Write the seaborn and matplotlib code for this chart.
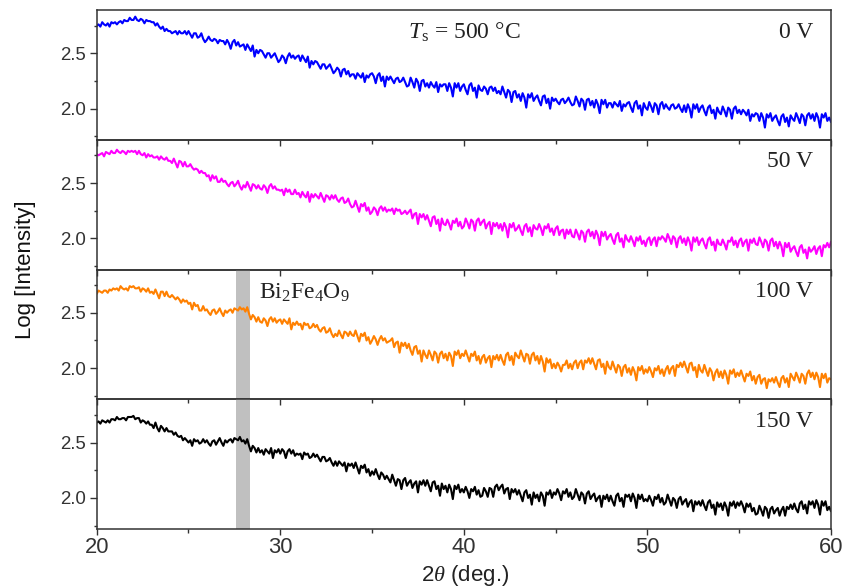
import numpy as np
import pandas as pd
import matplotlib
matplotlib.use("Agg")
import matplotlib.pyplot as plt
from matplotlib.ticker import FormatStrFormatter
import seaborn as sns

# ---- data (2theta from 20 to 60 deg, step 0.1 deg; one row = one degree) ----
bias_labels = ["0 V", "50 V", "100 V", "150 V"]
line_colors = ["#0000ff", "#ff00ff", "#ff8000", "#000000"]
x_ticks = [20, 30, 40, 50, 60]
y_ticks = [2.0, 2.5]
phase_label = r"$\mathrm{Bi_2Fe_4O_9}$"
phase_range = [27.6, 28.35]

log_i_0v = [
    2.75, 2.76, 2.74, 2.78, 2.76, 2.75, 2.77, 2.74, 2.78, 2.77,
    2.78, 2.76, 2.78, 2.79, 2.77, 2.80, 2.79, 2.79, 2.82, 2.80,
    2.80, 2.83, 2.80, 2.79, 2.81, 2.80, 2.77, 2.80, 2.79, 2.79,
    2.78, 2.78, 2.75, 2.77, 2.74, 2.72, 2.74, 2.70, 2.72, 2.70,
    2.70, 2.68, 2.69, 2.70, 2.67, 2.70, 2.68, 2.68, 2.70, 2.67,
    2.70, 2.67, 2.64, 2.68, 2.68, 2.64, 2.65, 2.68, 2.63, 2.60,
    2.62, 2.65, 2.62, 2.61, 2.63, 2.62, 2.59, 2.62, 2.61, 2.61,
    2.58, 2.62, 2.59, 2.54, 2.60, 2.62, 2.57, 2.60, 2.56, 2.57,
    2.58, 2.53, 2.58, 2.55, 2.52, 2.57, 2.47, 2.53, 2.50, 2.53,
    2.52, 2.49, 2.46, 2.50, 2.50, 2.46, 2.48, 2.50, 2.46, 2.42,
    2.44, 2.48, 2.46, 2.41, 2.47, 2.50, 2.46, 2.48, 2.45, 2.47,
    2.48, 2.43, 2.48, 2.45, 2.42, 2.47, 2.37, 2.43, 2.40, 2.43,
    2.42, 2.39, 2.36, 2.40, 2.40, 2.36, 2.38, 2.40, 2.36, 2.32,
    2.34, 2.37, 2.35, 2.29, 2.35, 2.36, 2.31, 2.34, 2.29, 2.31,
    2.31, 2.27, 2.32, 2.30, 2.28, 2.32, 2.24, 2.30, 2.28, 2.31,
    2.32, 2.29, 2.23, 2.30, 2.32, 2.25, 2.29, 2.20, 2.29, 2.26,
    2.29, 2.26, 2.23, 2.27, 2.28, 2.24, 2.25, 2.28, 2.24, 2.20,
    2.21, 2.28, 2.24, 2.19, 2.27, 2.24, 2.16, 2.25, 2.26, 2.20,
    2.23, 2.19, 2.24, 2.21, 2.19, 2.24, 2.15, 2.22, 2.20, 2.22,
    2.22, 2.16, 2.23, 2.19, 2.11, 2.23, 2.19, 2.23, 2.16, 2.20,
    2.22, 2.17, 2.13, 2.21, 2.23, 2.16, 2.19, 2.10, 2.21, 2.17,
    2.16, 2.20, 2.18, 2.13, 2.19, 2.20, 2.16, 2.19, 2.14, 2.16,
    2.13, 2.20, 2.15, 2.10, 2.17, 2.15, 2.06, 2.15, 2.16, 2.10,
    2.13, 2.07, 2.14, 2.10, 2.01, 2.13, 2.10, 2.14, 2.07, 2.10,
    2.12, 2.07, 2.03, 2.11, 2.12, 2.05, 2.09, 2.00, 2.10, 2.07,
    2.09, 2.06, 2.04, 2.08, 2.09, 2.05, 2.07, 2.10, 2.06, 2.03,
    2.04, 2.11, 2.07, 2.02, 2.09, 2.07, 1.99, 2.08, 2.09, 2.03,
    2.07, 2.01, 2.08, 2.04, 1.96, 2.08, 2.04, 2.08, 2.01, 2.05,
    2.05, 2.01, 2.06, 2.04, 2.02, 2.07, 1.98, 2.04, 2.02, 2.05,
    2.06, 2.01, 1.97, 2.05, 2.07, 2.00, 2.03, 1.94, 2.05, 2.01,
    1.99, 2.06, 2.02, 1.97, 2.05, 2.03, 1.95, 2.04, 2.06, 2.00,
    2.04, 2.01, 1.99, 2.03, 2.04, 2.00, 2.01, 2.04, 2.00, 1.97,
    2.03, 1.97, 2.04, 2.00, 1.92, 2.04, 2.00, 2.04, 1.97, 2.01,
    2.03, 1.98, 1.94, 2.01, 2.03, 1.96, 1.99, 1.91, 2.01, 1.97,
    1.95, 2.02, 1.98, 1.93, 2.01, 1.99, 1.91, 2.00, 2.02, 1.96,
    1.99, 1.95, 1.99, 1.97, 1.94, 1.99, 1.89, 1.95, 1.93, 1.96,
    1.95, 1.89, 1.96, 1.92, 1.83, 1.95, 1.92, 1.96, 1.89, 1.92,
    1.94, 1.89, 1.85, 1.93, 1.95, 1.88, 1.92, 1.84, 1.94, 1.91,
    1.89, 1.96, 1.92, 1.87, 1.95, 1.93, 1.85, 1.94, 1.96, 1.91,
    1.95, 1.89, 1.96, 1.92, 1.83, 1.95, 1.92, 1.96, 1.89, 1.92,
    1.88,
]

log_i_50v = [
    2.76, 2.75, 2.76, 2.77, 2.74, 2.78, 2.77, 2.76, 2.79, 2.77,
    2.77, 2.80, 2.78, 2.77, 2.79, 2.78, 2.76, 2.79, 2.78, 2.79,
    2.78, 2.79, 2.76, 2.79, 2.76, 2.75, 2.77, 2.73, 2.76, 2.74,
    2.75, 2.73, 2.73, 2.74, 2.71, 2.74, 2.72, 2.71, 2.73, 2.70,
    2.70, 2.68, 2.72, 2.68, 2.64, 2.70, 2.69, 2.65, 2.69, 2.65,
    2.65, 2.67, 2.64, 2.62, 2.63, 2.62, 2.59, 2.61, 2.59, 2.59,
    2.56, 2.57, 2.52, 2.57, 2.54, 2.56, 2.51, 2.51, 2.54, 2.51,
    2.52, 2.49, 2.47, 2.50, 2.51, 2.47, 2.49, 2.52, 2.47, 2.44,
    2.48, 2.46, 2.51, 2.47, 2.43, 2.49, 2.48, 2.45, 2.48, 2.45,
    2.44, 2.48, 2.46, 2.41, 2.47, 2.49, 2.45, 2.47, 2.44, 2.44,
    2.43, 2.44, 2.39, 2.45, 2.42, 2.44, 2.40, 2.40, 2.44, 2.40,
    2.41, 2.37, 2.42, 2.39, 2.37, 2.42, 2.33, 2.40, 2.37, 2.40,
    2.38, 2.36, 2.41, 2.37, 2.33, 2.39, 2.38, 2.35, 2.39, 2.36,
    2.39, 2.35, 2.33, 2.36, 2.37, 2.32, 2.33, 2.36, 2.31, 2.28,
    2.29, 2.34, 2.29, 2.24, 2.31, 2.29, 2.32, 2.25, 2.28, 2.22,
    2.24, 2.28, 2.26, 2.21, 2.27, 2.29, 2.25, 2.28, 2.24, 2.26,
    2.25, 2.27, 2.22, 2.27, 2.25, 2.26, 2.22, 2.23, 2.25, 2.22,
    2.24, 2.26, 2.18, 2.22, 2.23, 2.13, 2.22, 2.19, 2.22, 2.17,
    2.21, 2.16, 2.11, 2.19, 2.20, 2.13, 2.17, 2.07, 2.18, 2.13,
    2.12, 2.17, 2.13, 2.08, 2.16, 2.14, 2.18, 2.11, 2.15, 2.09,
    2.11, 2.18, 2.14, 2.09, 2.17, 2.15, 2.07, 2.16, 2.18, 2.12,
    2.15, 2.17, 2.09, 2.13, 2.15, 2.04, 2.14, 2.11, 2.14, 2.09,
    2.13, 2.07, 2.14, 2.10, 2.01, 2.13, 2.10, 2.14, 2.07, 2.09,
    2.12, 2.07, 2.03, 2.11, 2.13, 2.06, 2.10, 2.02, 2.12, 2.09,
    2.08, 2.13, 2.09, 2.03, 2.11, 2.09, 2.13, 2.06, 2.09, 2.03,
    2.09, 2.11, 2.03, 2.07, 2.08, 2.00, 2.08, 2.04, 2.08, 2.02,
    2.01, 2.08, 2.04, 1.99, 2.07, 2.05, 1.97, 2.06, 2.08, 2.02,
    2.06, 2.00, 2.07, 2.03, 1.94, 2.06, 2.02, 2.06, 1.99, 2.02,
    2.04, 1.99, 1.95, 2.03, 2.05, 1.97, 2.00, 1.92, 2.03, 1.99,
    1.97, 2.02, 1.98, 1.93, 2.01, 1.98, 2.02, 1.95, 1.98, 1.93,
    1.99, 2.01, 1.94, 1.99, 2.01, 1.93, 2.01, 1.99, 2.02, 2.00,
    1.97, 2.04, 2.00, 1.95, 2.02, 2.00, 1.92, 2.00, 2.02, 1.96,
    2.00, 1.94, 2.01, 1.97, 1.89, 2.01, 1.97, 2.01, 1.94, 1.98,
    2.00, 1.95, 1.91, 1.99, 2.01, 1.94, 1.97, 1.89, 1.99, 1.95,
    1.94, 1.99, 1.95, 1.90, 1.98, 1.97, 2.01, 1.94, 1.98, 1.92,
    1.98, 2.00, 1.93, 1.97, 1.99, 1.89, 1.99, 1.96, 2.00, 1.95,
    1.94, 2.01, 1.97, 1.92, 1.99, 1.97, 1.89, 1.98, 2.00, 1.93,
    1.97, 1.91, 1.97, 1.93, 1.84, 1.96, 1.92, 1.96, 1.88, 1.91,
    1.93, 1.88, 1.84, 1.92, 1.94, 1.87, 1.90, 1.82, 1.92, 1.88,
    1.90, 1.93, 1.86, 1.91, 1.93, 1.84, 1.94, 1.92, 1.96, 1.92,
    1.97,
]

log_i_100v = [
    2.67, 2.70, 2.69, 2.68, 2.70, 2.70, 2.68, 2.71, 2.70, 2.72,
    2.71, 2.72, 2.70, 2.74, 2.72, 2.71, 2.72, 2.70, 2.74, 2.73,
    2.74, 2.72, 2.72, 2.73, 2.69, 2.72, 2.71, 2.69, 2.72, 2.68,
    2.69, 2.67, 2.71, 2.67, 2.63, 2.69, 2.69, 2.65, 2.69, 2.65,
    2.64, 2.66, 2.64, 2.62, 2.64, 2.62, 2.59, 2.62, 2.60, 2.61,
    2.58, 2.59, 2.53, 2.59, 2.56, 2.57, 2.52, 2.52, 2.56, 2.52,
    2.53, 2.50, 2.48, 2.52, 2.53, 2.49, 2.51, 2.54, 2.50, 2.47,
    2.52, 2.50, 2.52, 2.53, 2.50, 2.54, 2.53, 2.52, 2.55, 2.53,
    2.54, 2.51, 2.55, 2.49, 2.44, 2.48, 2.46, 2.42, 2.46, 2.42,
    2.41, 2.45, 2.43, 2.38, 2.44, 2.46, 2.42, 2.45, 2.41, 2.43,
    2.44, 2.40, 2.44, 2.42, 2.40, 2.45, 2.35, 2.41, 2.39, 2.42,
    2.39, 2.40, 2.35, 2.41, 2.39, 2.40, 2.36, 2.37, 2.40, 2.37,
    2.39, 2.35, 2.33, 2.36, 2.37, 2.32, 2.33, 2.36, 2.31, 2.28,
    2.31, 2.29, 2.34, 2.30, 2.27, 2.33, 2.32, 2.29, 2.33, 2.30,
    2.29, 2.34, 2.29, 2.24, 2.31, 2.29, 2.32, 2.25, 2.28, 2.22,
    2.25, 2.29, 2.26, 2.21, 2.26, 2.29, 2.25, 2.27, 2.23, 2.24,
    2.25, 2.27, 2.19, 2.23, 2.24, 2.14, 2.23, 2.20, 2.23, 2.18,
    2.22, 2.16, 2.12, 2.19, 2.20, 2.13, 2.16, 2.06, 2.16, 2.12,
    2.09, 2.16, 2.12, 2.07, 2.15, 2.13, 2.05, 2.13, 2.15, 2.09,
    2.13, 2.07, 2.14, 2.11, 2.02, 2.15, 2.12, 2.16, 2.09, 2.13,
    2.11, 2.16, 2.11, 2.06, 2.13, 2.11, 2.15, 2.07, 2.11, 2.04,
    2.10, 2.12, 2.05, 2.09, 2.11, 2.01, 2.11, 2.08, 2.12, 2.07,
    2.12, 2.07, 2.03, 2.12, 2.14, 2.07, 2.11, 2.03, 2.14, 2.11,
    2.09, 2.16, 2.11, 2.06, 2.13, 2.12, 2.04, 2.12, 2.14, 2.07,
    2.11, 2.04, 2.11, 2.06, 1.97, 2.09, 2.05, 2.08, 2.00, 2.04,
    2.00, 2.05, 2.02, 1.97, 2.03, 2.03, 2.07, 2.00, 2.04, 1.99,
    2.05, 2.07, 2.00, 2.05, 2.07, 1.99, 2.07, 2.05, 2.09, 2.04,
    2.09, 2.04, 1.99, 2.07, 2.08, 2.01, 2.04, 1.95, 2.06, 2.01,
    1.99, 2.06, 2.01, 1.96, 2.03, 2.01, 1.93, 2.01, 2.03, 1.96,
    2.00, 1.94, 2.01, 1.97, 1.89, 2.01, 1.98, 2.02, 1.95, 1.99,
    1.96, 2.01, 1.97, 1.92, 2.00, 1.98, 2.02, 1.95, 1.99, 1.93,
    1.99, 2.02, 1.95, 2.00, 2.02, 1.93, 2.03, 2.01, 2.05, 2.01,
    2.06, 2.01, 1.96, 2.04, 2.05, 1.98, 2.01, 1.92, 2.03, 1.98,
    1.96, 2.03, 1.98, 1.93, 2.00, 1.97, 1.89, 1.96, 1.99, 1.92,
    1.97, 1.91, 1.98, 1.94, 1.86, 1.98, 1.95, 1.99, 1.92, 1.96,
    1.93, 1.98, 1.93, 1.88, 1.95, 1.93, 1.97, 1.89, 1.93, 1.86,
    1.92, 1.94, 1.86, 1.90, 1.91, 1.82, 1.90, 1.88, 1.91, 1.87,
    1.92, 1.87, 1.83, 1.91, 1.93, 1.87, 1.91, 1.83, 1.95, 1.92,
    1.89, 1.96, 1.92, 1.87, 1.95, 1.93, 1.86, 1.95, 1.98, 1.92,
    1.96, 1.90, 1.96, 1.92, 1.83, 1.95, 1.91, 1.95, 1.87, 1.91,
    1.90,
]

log_i_150v = [
    2.68, 2.69, 2.67, 2.70, 2.69, 2.68, 2.70, 2.68, 2.71, 2.71,
    2.70, 2.73, 2.71, 2.71, 2.72, 2.72, 2.70, 2.73, 2.73, 2.73,
    2.74, 2.71, 2.72, 2.72, 2.68, 2.70, 2.69, 2.67, 2.69, 2.66,
    2.66, 2.63, 2.68, 2.63, 2.60, 2.65, 2.63, 2.60, 2.63, 2.60,
    2.60, 2.60, 2.57, 2.59, 2.56, 2.55, 2.56, 2.52, 2.54, 2.52,
    2.50, 2.52, 2.47, 2.53, 2.51, 2.52, 2.49, 2.50, 2.53, 2.50,
    2.52, 2.49, 2.47, 2.51, 2.52, 2.48, 2.51, 2.54, 2.50, 2.47,
    2.52, 2.50, 2.52, 2.53, 2.50, 2.54, 2.53, 2.52, 2.55, 2.51,
    2.52, 2.49, 2.53, 2.47, 2.42, 2.47, 2.45, 2.41, 2.45, 2.41,
    2.43, 2.39, 2.44, 2.42, 2.40, 2.45, 2.36, 2.43, 2.41, 2.44,
    2.40, 2.44, 2.42, 2.36, 2.42, 2.44, 2.40, 2.43, 2.38, 2.40,
    2.39, 2.40, 2.35, 2.41, 2.39, 2.40, 2.36, 2.37, 2.40, 2.37,
    2.39, 2.36, 2.33, 2.37, 2.37, 2.33, 2.34, 2.36, 2.32, 2.29,
    2.33, 2.29, 2.33, 2.31, 2.29, 2.32, 2.24, 2.31, 2.29, 2.31,
    2.27, 2.32, 2.27, 2.22, 2.29, 2.27, 2.30, 2.23, 2.26, 2.20,
    2.24, 2.21, 2.26, 2.21, 2.17, 2.23, 2.21, 2.17, 2.20, 2.17,
    2.14, 2.21, 2.16, 2.11, 2.17, 2.16, 2.08, 2.16, 2.18, 2.11,
    2.14, 2.16, 2.09, 2.13, 2.15, 2.05, 2.15, 2.12, 2.16, 2.11,
    2.16, 2.11, 2.06, 2.14, 2.15, 2.08, 2.11, 2.02, 2.13, 2.08,
    2.11, 2.05, 2.12, 2.08, 1.99, 2.11, 2.08, 2.12, 2.05, 2.08,
    2.05, 2.10, 2.06, 2.00, 2.08, 2.06, 2.10, 2.03, 2.07, 2.01,
    2.02, 2.09, 2.06, 2.01, 2.09, 2.08, 2.01, 2.10, 2.12, 2.07,
    2.10, 2.12, 2.04, 2.08, 2.09, 1.99, 2.08, 2.05, 2.08, 2.03,
    2.07, 2.02, 1.97, 2.05, 2.07, 2.00, 2.03, 1.94, 2.05, 2.00,
    2.03, 1.97, 2.05, 2.02, 1.93, 2.05, 2.03, 2.07, 2.00, 2.05,
    2.03, 2.08, 2.04, 1.98, 2.06, 2.04, 2.08, 2.01, 2.05, 1.99,
    2.01, 2.08, 2.03, 1.98, 2.05, 2.03, 1.95, 2.04, 2.06, 1.99,
    2.02, 2.04, 1.97, 2.00, 2.02, 1.92, 2.02, 1.99, 2.03, 1.97,
    2.02, 1.97, 1.93, 2.02, 2.04, 1.97, 2.00, 1.92, 2.03, 2.01,
    2.03, 1.97, 2.04, 2.00, 1.91, 2.03, 1.99, 2.03, 1.97, 1.99,
    1.97, 2.02, 1.98, 1.93, 2.01, 1.99, 2.03, 1.96, 2.00, 1.94,
    1.96, 2.03, 1.98, 1.93, 2.00, 1.98, 1.91, 1.99, 2.01, 1.94,
    1.97, 1.99, 1.92, 1.96, 1.98, 1.88, 1.97, 1.94, 1.97, 1.93,
    1.98, 1.93, 1.89, 1.96, 1.98, 1.91, 1.94, 1.85, 1.96, 1.92,
    1.95, 1.89, 1.96, 1.92, 1.84, 1.96, 1.93, 1.97, 1.91, 1.96,
    1.93, 1.97, 1.93, 1.87, 1.95, 1.92, 1.95, 1.88, 1.91, 1.85,
    1.86, 1.93, 1.89, 1.84, 1.92, 1.90, 1.82, 1.90, 1.92, 1.86,
    1.89, 1.91, 1.84, 1.89, 1.92, 1.84, 1.92, 1.90, 1.94, 1.90,
    1.95, 1.90, 1.87, 1.95, 1.97, 1.90, 1.94, 1.86, 1.97, 1.94,
    1.97, 1.91, 1.98, 1.94, 1.85, 1.97, 1.93, 1.97, 1.89, 1.92,
    1.88,
]

series = [log_i_0v, log_i_50v, log_i_100v, log_i_150v]

# ---- style ----
sns.set_style("ticks")
plt.rcParams["font.family"] = ["Liberation Sans", "DejaVu Sans"]
plt.rcParams["mathtext.fontset"] = "custom"
plt.rcParams["mathtext.rm"] = "Liberation Serif"
plt.rcParams["mathtext.it"] = "Liberation Serif:italic"
plt.rcParams["mathtext.bf"] = "Liberation Serif:bold"

W, H = 843, 588
fig, axes = plt.subplots(4, 1, figsize=(W / 100, H / 100), dpi=100, sharex=True)
fig.patch.set_facecolor("white")
fig.subplots_adjust(left=96.7 / W, right=831 / W, top=1 - 10 / H,
                    bottom=1 - 529 / H, hspace=0)

spine_col = "#333333"
for i, ax in enumerate(axes):
    vals = series[i]
    df = pd.DataFrame({"two_theta": np.linspace(20, 60, len(vals)),
                       "log_intensity": vals})
    ax.set_facecolor("none")
    if i >= 2:
        ax.axvspan(phase_range[0], phase_range[1], color="#c0c0c0", lw=0, zorder=0)
    sns.lineplot(data=df, x="two_theta", y="log_intensity", ax=ax,
                 color=line_colors[i], linewidth=1.5, estimator=None,
                 errorbar=None, zorder=2)
    ax.set_xlim(20, 60)
    ax.set_ylim(1.72, 2.89)
    ax.set_yticks(y_ticks)
    ax.set_yticks([1.75, 2.25, 2.75], minor=True)
    ax.yaxis.set_major_formatter(FormatStrFormatter("%.1f"))
    ax.set_xticks(x_ticks)
    ax.set_xticks([25, 35, 45, 55], minor=True)
    ax.tick_params(axis="both", which="both", direction="out", color=spine_col,
                   width=1.0, top=False, right=False)
    ax.tick_params(axis="y", which="major", length=5, pad=3,
                   labelsize=13.4, labelcolor=spine_col)
    ax.tick_params(axis="y", which="minor", length=2.5)
    ax.tick_params(axis="x", which="major", length=4, pad=2,
                   labelsize=15.8, labelcolor=spine_col)
    ax.tick_params(axis="x", which="minor", length=3)
    ax.set_xlabel("")
    ax.set_ylabel("")
    for sp in ax.spines.values():
        sp.set_visible(True)
        sp.set_color(spine_col)
        sp.set_linewidth(1.1)
    ax.text(0.9755, 0.83, bias_labels[i], transform=ax.transAxes, ha="right",
            va="center", fontsize=17, family="Liberation Serif", color="#222222")

axes[0].text(0.424, 0.83, r"$T_\mathrm{s}$ = 500 °C", transform=axes[0].transAxes,
             ha="left", va="center", fontsize=17, family="Liberation Serif",
             color="#222222")
axes[2].text(0.221, 0.82, phase_label, transform=axes[2].transAxes, ha="left",
             va="center", fontsize=17, color="#222222")

fig.text(465 / W, 1 - 575 / H, r"2$\mathit{\theta}$ (deg.)", ha="center",
         va="center", fontsize=16, color="#222222")
fig.text(25 / W, 1 - 270 / H, "Log [Intensity]", ha="center", va="center",
         rotation=90, fontsize=16, color="#111111")

fig.savefig("out.png", dpi=100, facecolor="white")
